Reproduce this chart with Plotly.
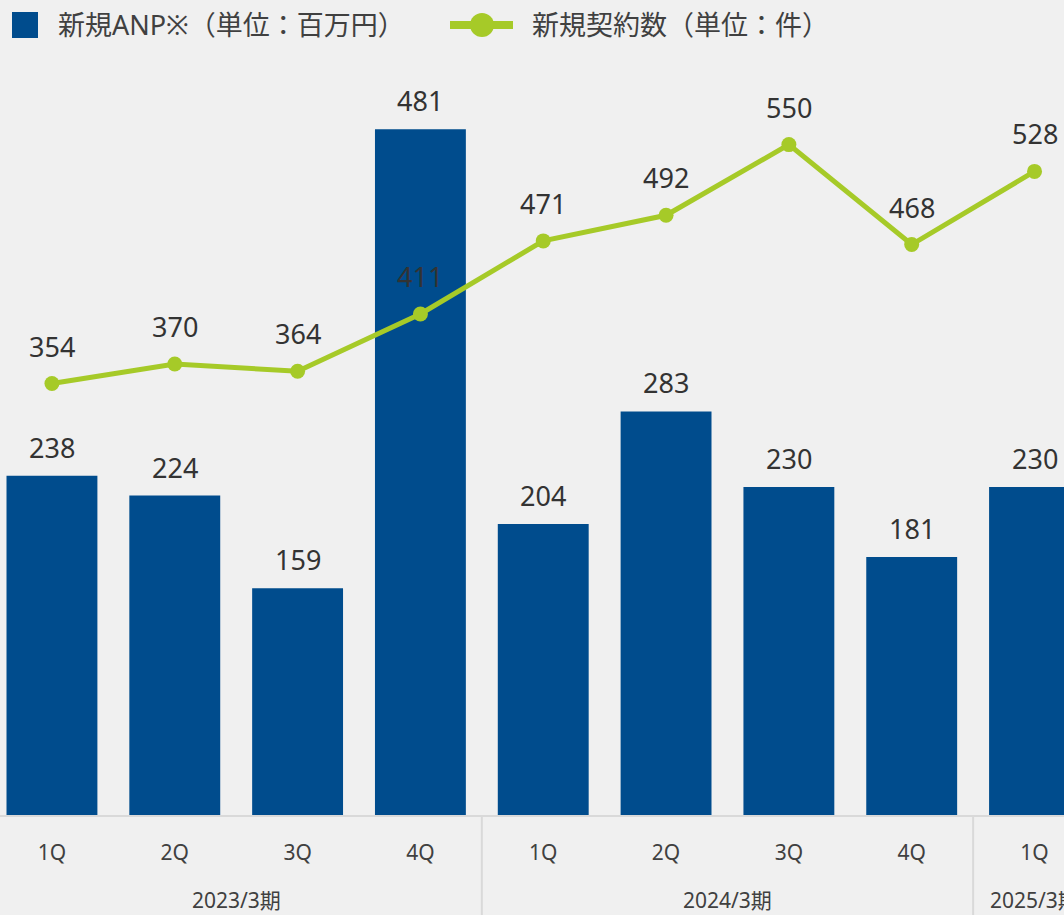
import plotly.graph_objects as go

# Data
periods = ["2023/3期"] * 4 + ["2024/3期"] * 4 + ["2025/3期"]
quarters = ["1Q", "2Q", "3Q", "4Q", "1Q", "2Q", "3Q", "4Q", "1Q"]
anp = [238, 224, 159, 481, 204, 283, 230, 181, 230]
contracts = [354, 370, 364, 411, 471, 492, 550, 468, 528]

ANP_NAME = "新規ANP※（単位：百万円）"
CONTRACT_NAME = "新規契約数（単位：件）"

BAR_COLOR = "#004c8d"
LINE_COLOR = "#a6ca28"
TEXT_COLOR = "#333333"
AXIS_TEXT = "#404040"
GRID = "#d9d9d9"
BG = "#f0f0f0"
FONT = "Noto Sans, Noto Sans CJK JP, sans-serif"

W, H = 1064, 915
M_TOP, M_BOT = 60, 100
PLOT_H = H - M_TOP - M_BOT

xs = list(range(len(quarters)))

fig = go.Figure()

fig.add_trace(
    go.Bar(
        x=xs,
        y=anp,
        name=ANP_NAME,
        marker=dict(color=BAR_COLOR, line_width=0),
        width=0.74,
        showlegend=False,
        yaxis="y",
    )
)

fig.add_trace(
    go.Scatter(
        x=xs,
        y=contracts,
        name=CONTRACT_NAME,
        mode="lines+markers",
        line=dict(color=LINE_COLOR, width=5),
        marker=dict(color=LINE_COLOR, size=15),
        showlegend=False,
        yaxis="y2",
    )
)

# Data labels
annotations = []
for xi, v in zip(xs, anp):
    annotations.append(dict(
        x=xi, y=v, xref="x", yref="y", text=str(v),
        showarrow=False, yanchor="bottom", yshift=8,
        font=dict(family=FONT, size=27, color=TEXT_COLOR),
    ))
for xi, v in zip(xs, contracts):
    annotations.append(dict(
        x=xi, y=v, xref="x", yref="y2", text=str(v),
        showarrow=False, yanchor="bottom", yshift=17,
        font=dict(family=FONT, size=27, color=TEXT_COLOR),
    ))

# Period group labels and dividers
shapes = []
groups = []
for i, p in enumerate(periods):
    if not groups or groups[-1][0] != p:
        groups.append([p, i, i])
    else:
        groups[-1][2] = i
for p, first, last in groups:
    annotations.append(dict(
        x=(first + last) / 2, y=0, xref="x", yref="paper", text=p,
        showarrow=False, yanchor="middle", yshift=-85,
        font=dict(family=FONT, size=21, color=AXIS_TEXT),
    ))
    if first > 0:
        shapes.append(dict(
            type="line", xref="x", yref="paper",
            x0=first - 0.5, x1=first - 0.5, y0=0, y1=-0.2,
            line=dict(color=GRID, width=2),
        ))


# Custom legend (pixel positions converted to paper coords)
def px(x):
    return x / W


def py(y):
    return 1 + (M_TOP - y) / PLOT_H


shapes.append(dict(
    type="rect", xref="paper", yref="paper",
    x0=px(12), x1=px(38), y0=py(38), y1=py(12),
    fillcolor=BAR_COLOR, line_width=0,
))
annotations.append(dict(
    x=px(56), y=py(25), xref="paper", yref="paper", text=ANP_NAME,
    showarrow=False, xanchor="left", yanchor="middle",
    font=dict(family=FONT, size=27, color=AXIS_TEXT),
))
shapes.append(dict(
    type="line", xref="paper", yref="paper",
    x0=px(450), x1=px(513), y0=py(25), y1=py(25),
    line=dict(color=LINE_COLOR, width=8),
))
shapes.append(dict(
    type="circle", xref="paper", yref="paper",
    x0=px(470), x1=px(494), y0=py(37), y1=py(13),
    fillcolor=LINE_COLOR, line_width=0,
))
annotations.append(dict(
    x=px(530), y=py(25), xref="paper", yref="paper", text=CONTRACT_NAME,
    showarrow=False, xanchor="left", yanchor="middle",
    font=dict(family=FONT, size=27, color=AXIS_TEXT),
))

fig.update_layout(
    width=W,
    height=H,
    paper_bgcolor=BG,
    plot_bgcolor=BG,
    margin=dict(l=0, r=0, t=M_TOP, b=M_BOT),
    font=dict(family=FONT, size=21, color=AXIS_TEXT),
    showlegend=False,
    xaxis=dict(
        range=[-0.423, 8.24],
        tickvals=xs,
        ticktext=quarters,
        showline=True,
        linecolor=GRID,
        linewidth=2,
        showgrid=False,
        zeroline=False,
        ticks="",
        ticklabelstandoff=18,
        tickfont=dict(size=21, color=AXIS_TEXT),
    ),
    yaxis=dict(range=[0, 529.5], visible=False, showgrid=False),
    yaxis2=dict(range=[0, 619.4], overlaying="y", visible=False, showgrid=False),
    annotations=annotations,
    shapes=shapes,
)

fig.write_html(
    "out.html",
    config={"displayModeBar": False},
    post_script="document.body.style.margin='0';",
)
